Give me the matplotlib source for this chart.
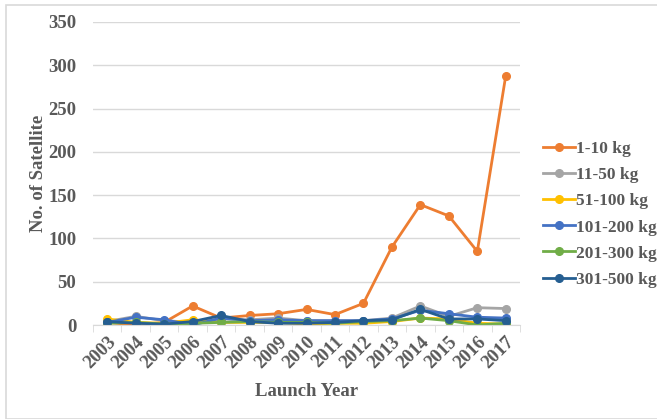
import matplotlib.pyplot as plt
from matplotlib.patches import Rectangle

# data
years = ['2003', '2004', '2005', '2006', '2007', '2008', '2009', '2010',
         '2011', '2012', '2013', '2014', '2015', '2016', '2017']
kg_1_10 = [3, 0, 3, 22, 8, 11, 13, 18, 12, 25, 90, 139, 126, 85, 288]
kg_11_50 = [4, 10, 5, 3, 7, 6, 8, 5, 5, 5, 8, 22, 10, 20, 19]
kg_51_100 = [7, 3, 2, 6, 3, 3, 3, 1, 2, 2, 4, 8, 7, 2, 1]
kg_101_200 = [3, 9, 6, 0, 8, 5, 6, 5, 5, 5, 7, 17, 13, 9, 8]
kg_201_300 = [2, 3, 1, 2, 3, 4, 3, 3, 2, 4, 5, 8, 5, 0, 2]
kg_301_500 = [4, 2, 1, 4, 11, 4, 2, 2, 3, 5, 6, 18, 7, 7, 5]

series = [
    ('1-10 kg', kg_1_10, '#ED7D31'),
    ('11-50 kg', kg_11_50, '#A5A5A5'),
    ('51-100 kg', kg_51_100, '#FFC000'),
    ('101-200 kg', kg_101_200, '#4472C4'),
    ('201-300 kg', kg_201_300, '#70AD47'),
    ('301-500 kg', kg_301_500, '#255E91'),
]

plt.rcParams['font.family'] = 'Liberation Serif'
plt.rcParams['font.weight'] = 'bold'

fig = plt.figure(figsize=(6.57, 4.19), dpi=100)
ax = fig.add_axes([93 / 657, 1 - 325 / 419, 427 / 657, 303 / 419])

# chart border
fig.patches.append(Rectangle((6 / 657, 0.0), 1.0, 1 - 5 / 419, transform=fig.transFigure,
                             fill=False, edgecolor='#D9D9D9', lw=1.2))

x = list(range(len(years)))
for label, vals, col in series:
    ax.plot(x, vals, color=col, lw=2.0, marker='o', markersize=5.5, label=label)

ax.set_xlim(-0.5, len(years) - 0.5)
ax.set_ylim(0, 350)
ax.set_yticks(range(0, 351, 50))
ax.yaxis.grid(True, color='#D9D9D9', lw=1)
ax.set_axisbelow(True)

ax.set_xticks(x)
ax.set_xticklabels(years, rotation=45, ha='right', va='top', rotation_mode='anchor')
ax.set_xticks([i - 0.5 for i in range(len(years) + 1)], minor=True)
ax.tick_params(axis='x', which='major', length=0, pad=6)
ax.tick_params(axis='x', which='minor', length=5, color='#D9D9D9')
ax.tick_params(axis='y', length=0, pad=12)
ax.tick_params(labelsize=13.5, labelcolor='#595959')

for s in ['top', 'right', 'left']:
    ax.spines[s].set_visible(False)
ax.spines['bottom'].set_color('#D9D9D9')

ax.set_xlabel('Launch Year', fontsize=13.5, fontweight='bold', color='#595959', labelpad=8)
ax.set_ylabel('No. of Satellite', fontsize=13.5, fontweight='bold', color='#595959', labelpad=1)

ax.legend(loc='center left', bbox_to_anchor=(1.055, 0.365), frameon=False, borderaxespad=0,
          borderpad=0, fontsize=12.5, labelcolor='#595959', handlelength=1.8,
          handletextpad=0.1, labelspacing=0.57)

fig.savefig('out.png', dpi=100)
